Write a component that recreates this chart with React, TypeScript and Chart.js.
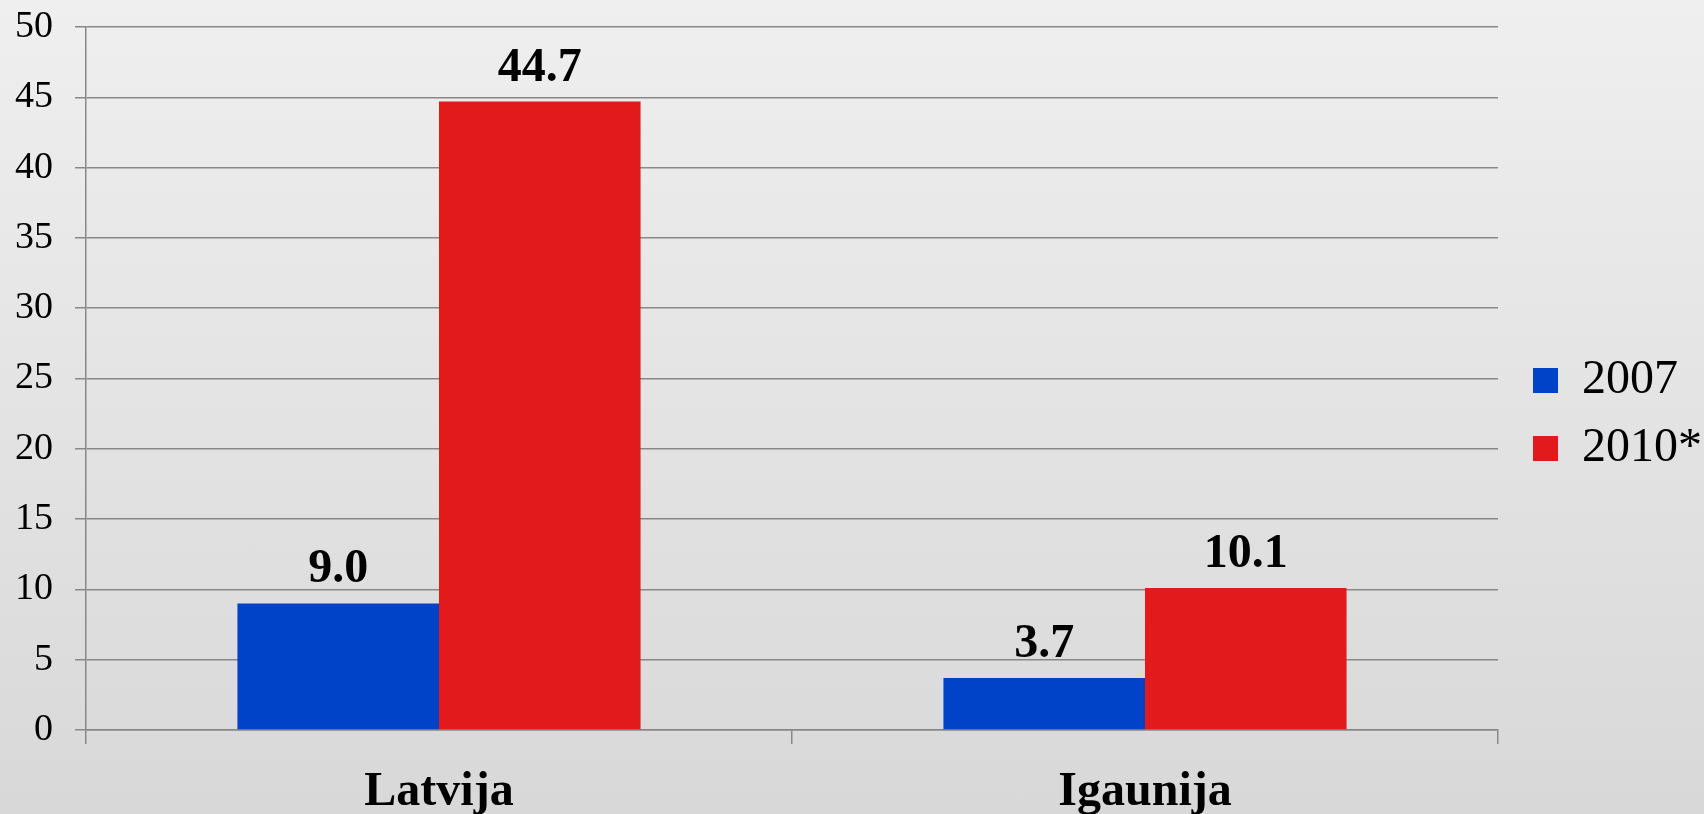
import React, { useEffect, useRef } from "react";
import { Chart, registerables } from "chart.js";

Chart.register(...registerables);

const categories = ["Latvija", "Igaunija"];
const seriesNames = ["2007", "2010*"];
const values2007 = [9.0, 3.7];
const values2010 = [44.7, 10.1];
const seriesColors = ["#0043C8", "#E31A1C"];
const yMin = 0;
const yMax = 50;
const yStep = 5;

const FONT = "'Liberation Serif', 'Times New Roman', serif";
const GRID = "#888888";

const valueLabels = {
  id: "valueLabels",
  afterDatasetsDraw(chart: any) {
    const ctx = chart.ctx;
    ctx.save();
    ctx.font = `bold 48px ${FONT}`;
    ctx.fillStyle = "#000";
    ctx.textAlign = "center";
    ctx.textBaseline = "alphabetic";
    chart.data.datasets.forEach((ds: any, di: number) => {
      const meta = chart.getDatasetMeta(di);
      meta.data.forEach((bar: any, i: number) => {
        ctx.fillText(Number(ds.data[i]).toFixed(1), bar.x, bar.y - 21);
      });
    });
    ctx.restore();
  },
};

const legendShift = {
  id: "legendShift",
  afterLayout(chart: any) {
    const l = chart.legend;
    if (!l) return;
    l.left += 15;
    l.right += 15;
    l.top -= 6;
    l.bottom -= 6;
  },
};

export default function App() {
  const ref = useRef<HTMLCanvasElement>(null);
  useEffect(() => {
    document.body.style.margin = "0";
    document.body.style.overflow = "hidden";
    const chart = new Chart(ref.current as HTMLCanvasElement, {
      type: "bar",
      data: {
        labels: categories,
        datasets: [
          { label: seriesNames[0], data: values2007, backgroundColor: seriesColors[0], borderWidth: 0 },
          { label: seriesNames[1], data: values2010, backgroundColor: seriesColors[1], borderWidth: 0 },
        ],
      },
      options: {
        animation: false,
        responsive: true,
        maintainAspectRatio: false,
        layout: { padding: { top: 27, right: 7, left: 0, bottom: 0 } },
        datasets: { bar: { barPercentage: 1, categoryPercentage: 0.571 } },
        plugins: {
          tooltip: { enabled: false },
          legend: {
            position: "right",
            labels: {
              boxWidth: 25,
              boxHeight: 25,
              padding: 20,
              color: "#000",
              font: { family: FONT, size: 48 },
            },
          },
        },
        scales: {
          x: {
            offset: true,
            grid: { display: true, offset: true, drawOnChartArea: false, drawTicks: true, tickLength: 14, color: GRID, lineWidth: 1.5 },
            border: { display: true, color: GRID, width: 1.5 },
            ticks: { color: "#000", font: { family: FONT, size: 48, weight: "bold" }, padding: 20 },
            afterFit: (s: any) => { s.height = 84; },
          },
          y: {
            min: yMin,
            max: yMax,
            ticks: { stepSize: yStep, color: "#000", font: { family: FONT, size: 38 }, padding: 22 },
            grid: { color: GRID, lineWidth: 1.5, tickLength: 11, drawTicks: true },
            border: { display: true, color: GRID, width: 1.5 },
            afterFit: (s: any) => {
              s.width = 86;
              s.paddingTop = 0;
              s.paddingBottom = 0;
            },
          },
        },
      },
      plugins: [valueLabels, legendShift],
    });
    return () => chart.destroy();
  }, []);
  return (
    <div
      style={{
        width: 1704,
        height: 814,
        position: "relative",
        background: "linear-gradient(to bottom, #efefef 0%, #d8d8d8 100%)",
      }}
    >
      <canvas ref={ref} />
    </div>
  );
}
